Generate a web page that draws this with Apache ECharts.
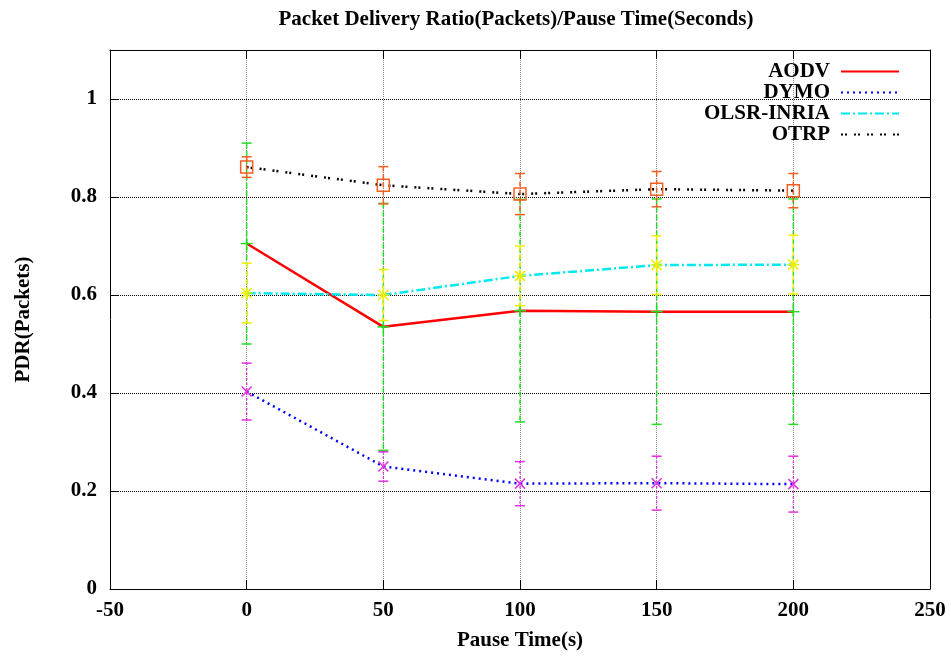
<!DOCTYPE html>
<html>
<head>
<meta charset="utf-8">
<title>Packet Delivery Ratio</title>
<script src="https://cdn.jsdelivr.net/npm/echarts@6/dist/echarts.min.js"></script>
<style>
  html, body { margin: 0; padding: 0; background: #fff; }
  #chart { width: 951px; height: 656px; }
</style>
</head>
<body>
<div id="chart"></div>
<script>
// pause time (s) on x, PDR on y, +/- error per point
const pauseTimes = [0, 50, 100, 150, 200]
const aodv = [0.705, 0.535, 0.568, 0.566, 0.566]
const aodvErr = [0.205, 0.252, 0.227, 0.230, 0.230]
const dymo = [0.403, 0.250, 0.215, 0.216, 0.214]
const dymoErr = [0.058, 0.030, 0.045, 0.055, 0.057]
const olsr = [0.604, 0.600, 0.639, 0.661, 0.662]
const olsrErr = [0.061, 0.052, 0.061, 0.060, 0.060]
const otrp = [0.861, 0.824, 0.806, 0.816, 0.813]
const otrpErr = [0.021, 0.038, 0.042, 0.036, 0.035]
const seriesNames = ['AODV', 'DYMO', 'OLSR-INRIA', 'OTRP']

const serif = '"Liberation Serif", "DejaVu Serif", serif'
const fs = 21

// point markers like gnuplot's pointtypes
function plusMark(p, c) {
  return [
    { type: 'line', shape: { x1: p[0] - 6, y1: p[1], x2: p[0] + 6, y2: p[1] }, style: { stroke: c, lineWidth: 1.5 } },
    { type: 'line', shape: { x1: p[0], y1: p[1] - 6, x2: p[0], y2: p[1] + 6 }, style: { stroke: c, lineWidth: 1.5 } }
  ]
}
function crossMark(p, c) {
  return [
    { type: 'line', shape: { x1: p[0] - 5, y1: p[1] - 5, x2: p[0] + 5, y2: p[1] + 5 }, style: { stroke: c, lineWidth: 1.5 } },
    { type: 'line', shape: { x1: p[0] - 5, y1: p[1] + 5, x2: p[0] + 5, y2: p[1] - 5 }, style: { stroke: c, lineWidth: 1.5 } }
  ]
}
function starMark(p, c) {
  return plusMark(p, c).concat(crossMark(p, c))
}
function squareMark(p, c) {
  return [
    { type: 'rect', shape: { x: p[0] - 6, y: p[1] - 6, width: 12, height: 12 }, style: { stroke: c, fill: null, lineWidth: 1.5 } }
  ]
}

function errorBars(name, values, errs, color, dash, marker) {
  return {
    type: 'custom',
    name: name + ' err',
    silent: true,
    z: 3,
    data: pauseTimes.map((x, i) => [x, values[i], errs[i]]),
    encode: { x: 0, y: 1 },
    renderItem(params, api) {
      const x = api.value(0)
      const y = api.value(1)
      const e = api.value(2)
      const top = api.coord([x, y + e])
      const bot = api.coord([x, y - e])
      const mid = api.coord([x, y])
      const solid = { stroke: color, lineWidth: 1.5 }
      let children = [
        { type: 'line', shape: { x1: top[0], y1: top[1], x2: bot[0], y2: bot[1] }, style: { stroke: color, lineWidth: 1.5, lineDash: dash } },
        { type: 'line', shape: { x1: top[0] - 5, y1: top[1], x2: top[0] + 5, y2: top[1] }, style: solid },
        { type: 'line', shape: { x1: bot[0] - 5, y1: bot[1], x2: bot[0] + 5, y2: bot[1] }, style: solid }
      ]
      children = children.concat(marker(mid, color))
      return { type: 'group', children }
    }
  }
}

function lineSeries(name, values, color, type, width) {
  return {
    name: name,
    type: 'line',
    data: pauseTimes.map((x, i) => [x, values[i]]),
    symbol: 'none',
    z: 2,
    lineStyle: { color: color, width: width, type: type },
    itemStyle: { color: color }
  }
}

const legendTops = [61, 82, 103, 124]

const chart = echarts.init(document.getElementById('chart'))
chart.setOption({
  animation: false,
  title: {
    text: 'Packet Delivery Ratio(Packets)/Pause Time(Seconds)',
    left: 511,
    top: 4,
    textAlign: 'center',
    textStyle: { fontFamily: serif, fontSize: fs, fontWeight: 'bold', color: '#000' }
  },
  legend: seriesNames.map((n, i) => ({
    data: [n],
    right: 51,
    top: legendTops[i],
    padding: 0,
    align: 'right',
    itemWidth: 58,
    itemHeight: 14,
    selectedMode: false,
    itemStyle: { opacity: 0 },
    textStyle: { fontFamily: serif, fontSize: fs, fontWeight: 'bold', color: '#000', padding: [0, 6, 0, 0] }
  })),
  grid: { left: 110, right: 21, top: 50, bottom: 66 },
  xAxis: [
    {
      type: 'value',
      min: -50,
      max: 250,
      interval: 50,
      name: 'Pause Time(s)',
      nameLocation: 'middle',
      nameGap: 41,
      nameTextStyle: { fontFamily: serif, fontSize: fs, fontWeight: 'bold', color: '#000' },
      axisLine: { show: true, onZero: false, lineStyle: { color: '#000', width: 1 } },
      axisTick: { show: true, inside: true, length: 9, lineStyle: { color: '#000' } },
      axisLabel: { margin: 11, fontFamily: serif, fontSize: fs, fontWeight: 'bold', color: '#000' },
      splitLine: { show: true, lineStyle: { color: '#888', type: 'dotted', width: 1 } }
    },
    {
      type: 'value',
      position: 'top',
      min: -50,
      max: 250,
      interval: 50,
      axisLine: { show: true, onZero: false, lineStyle: { color: '#000', width: 1 } },
      axisTick: { show: true, inside: true, length: 9, lineStyle: { color: '#000' } },
      axisLabel: { show: false },
      splitLine: { show: false }
    }
  ],
  yAxis: [
    {
      type: 'value',
      min: 0,
      max: 1.1,
      interval: 0.2,
      name: 'PDR(Packets)',
      nameLocation: 'middle',
      nameGap: 76,
      nameTextStyle: { fontFamily: serif, fontSize: fs, fontWeight: 'bold', color: '#000' },
      axisLine: { show: true, onZero: false, lineStyle: { color: '#000', width: 1 } },
      axisTick: { show: true, inside: true, length: 9, lineStyle: { color: '#000' } },
      axisLabel: { margin: 13, showMaxLabel: false, fontFamily: serif, fontSize: fs, fontWeight: 'bold', color: '#000' },
      splitLine: { show: true, lineStyle: { color: '#000', type: 'dotted', width: 1 } }
    },
    {
      type: 'value',
      position: 'right',
      min: 0,
      max: 1.1,
      interval: 0.2,
      axisLine: { show: true, onZero: false, lineStyle: { color: '#000', width: 1 } },
      axisTick: { show: true, inside: true, length: 9, lineStyle: { color: '#000' } },
      axisLabel: { show: false },
      splitLine: { show: false }
    }
  ],
  series: [
    lineSeries('AODV', aodv, '#ff0000', 'solid', 2.5),
    lineSeries('DYMO', dymo, '#0000ff', [2, 4], 2.5),
    lineSeries('OLSR-INRIA', olsr, '#00e8f0', [9, 3, 2, 3], 2.5),
    lineSeries('OTRP', otrp, '#000000', [2, 2, 2, 7], 2.5),
    errorBars('AODV', aodv, aodvErr, '#22dd22', [5, 3], plusMark),
    errorBars('DYMO', dymo, dymoErr, '#e030e0', [2, 3], crossMark),
    errorBars('OLSR-INRIA', olsr, olsrErr, '#eeee00', [5, 3], starMark),
    errorBars('OTRP', otrp, otrpErr, '#f06020', [5, 3], squareMark)
  ]
})
</script>
</body>
</html>
